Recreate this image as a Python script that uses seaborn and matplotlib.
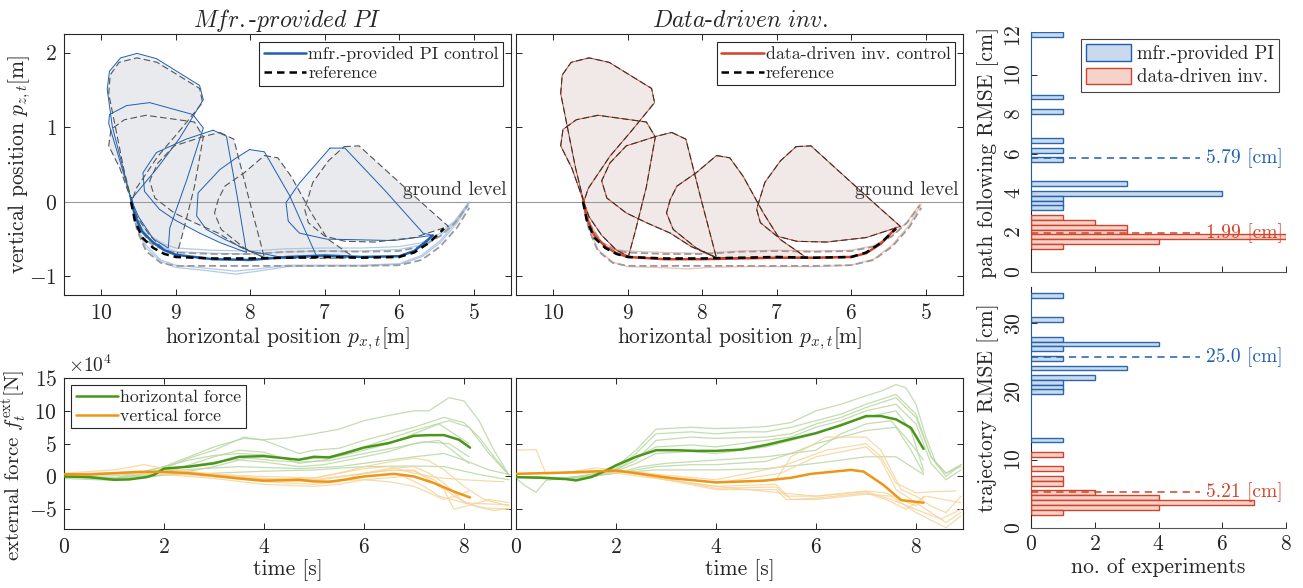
import matplotlib
matplotlib.use("Agg")
import matplotlib.pyplot as plt
import seaborn as sns
from matplotlib.lines import Line2D
from matplotlib.patches import Patch

# ── trajectory data [m] (x horizontal, y vertical) ──────────────────────────
# reference digging loops (dashed), data-driven control follows them closely
ref_loop1_x = [9.59, 9.70, 9.80, 9.90, 9.88, 9.76, 9.52, 9.25, 8.68, 8.64, 8.95, 9.24, 9.53, 9.59]
ref_loop1_y = [0.00, 0.45, 0.95, 1.45, 1.70, 1.87, 1.93, 1.87, 1.52, 1.33, 0.95, 0.61, 0.18, 0.00]
ref_loop2_x = [9.59, 9.75, 9.90, 9.87, 9.69, 9.40, 8.75, 8.63, 8.75, 8.90, 8.99, 9.15, 9.35, 9.52, 9.59]
ref_loop2_y = [0.00, 0.45, 0.75, 0.97, 1.10, 1.16, 1.07, 0.87, 0.20, -0.40, -0.73, -0.65, -0.45, -0.20, 0.00]
ref_loop3_x = [8.41, 8.22, 8.02, 7.81, 8.15, 8.43, 8.75, 9.02, 9.28, 9.35, 9.24, 9.02, 8.61, 8.41]
ref_loop3_y = [0.93, 0.84, 0.05, -0.75, -0.60, -0.42, -0.28, -0.15, 0.05, 0.28, 0.52, 0.75, 0.88, 0.93]
ref_loop4_x = [7.81, 7.63, 7.45, 7.18, 6.96, 6.60, 7.20, 7.81, 8.08, 8.39, 8.48, 8.43, 8.34, 8.08, 7.81]
ref_loop4_y = [0.62, 0.59, 0.34, -0.15, -0.50, -0.75, -0.76, -0.75, -0.62, -0.37, -0.15, 0.03, 0.21, 0.39, 0.62]
ref_loop5_x = [6.74, 6.54, 6.00, 5.60, 5.34, 5.80, 6.33, 6.73, 7.00, 7.22, 7.27, 7.16, 6.95, 6.74]
ref_loop5_y = [0.74, 0.75, 0.26, -0.10, -0.33, -0.48, -0.54, -0.53, -0.46, -0.28, -0.10, 0.26, 0.55, 0.74]

# manufacturer PI control loops (drift away from the reference)
pi_loop1_x = [9.60, 9.72, 9.85, 9.92, 9.89, 9.74, 9.52, 9.26, 8.68, 8.63, 8.95, 9.25, 9.50, 9.60]
pi_loop1_y = [0.03, 0.50, 1.00, 1.51, 1.75, 1.93, 1.99, 1.92, 1.56, 1.37, 0.85, 0.45, 0.15, 0.03]
pi_loop2_x = [9.60, 9.75, 9.90, 9.89, 9.66, 9.35, 8.77, 8.63, 8.85, 9.08, 9.10, 9.30, 9.50, 9.60]
pi_loop2_y = [0.03, 0.55, 1.05, 1.17, 1.29, 1.33, 1.17, 0.99, 0.30, -0.35, -0.62, -0.50, -0.20, 0.03]
pi_loop3_x = [8.50, 8.32, 8.18, 8.05, 8.40, 8.68, 9.00, 9.22, 9.42, 9.44, 9.26, 8.86, 8.50]
pi_loop3_y = [0.96, 0.88, 0.10, -0.68, -0.55, -0.42, -0.25, -0.10, 0.14, 0.39, 0.66, 0.84, 0.96]
pi_loop4_x = [8.01, 7.81, 7.47, 7.11, 7.50, 8.01, 8.35, 8.59, 8.72, 8.70, 8.41, 8.20, 8.01]
pi_loop4_y = [0.70, 0.67, 0.08, -0.73, -0.76, -0.66, -0.50, -0.37, -0.19, 0.12, 0.43, 0.58, 0.70]
pi_loop5_x = [6.93, 6.73, 6.20, 5.68, 5.55, 6.08, 6.98, 7.34, 7.49, 7.52, 7.34, 6.93]
pi_loop5_y = [0.72, 0.72, 0.16, -0.42, -0.45, -0.52, -0.50, -0.42, -0.26, -0.01, 0.25, 0.72]

# bottom (scraping) passes
bot_x = [9.60, 9.55, 9.45, 9.30, 9.15, 9.00, 8.50, 8.00, 7.50, 7.00, 6.50, 6.00, 5.80, 5.60, 5.40]
ref_main_y = [0.00, -0.25, -0.48, -0.62, -0.70, -0.74, -0.76, -0.76, -0.75, -0.74, -0.75, -0.74, -0.68, -0.55, -0.36]
pi_main_x = [9.60, 9.55, 9.45, 9.30, 9.15, 9.00, 8.50, 8.00, 7.50, 7.00, 6.50, 6.00, 5.80, 5.65, 5.55]
pi_main_y = [0.05, -0.18, -0.40, -0.55, -0.65, -0.71, -0.77, -0.78, -0.74, -0.72, -0.74, -0.73, -0.66, -0.54, -0.45]
dd_main_y = [0.02, -0.22, -0.45, -0.60, -0.69, -0.74, -0.77, -0.77, -0.76, -0.75, -0.75, -0.74, -0.69, -0.56, -0.35]

up_x = [9.60, 9.50, 9.35, 9.15, 9.00, 8.50, 8.00, 7.50, 7.00, 6.50, 6.00, 5.70, 5.45, 5.25, 5.08]
pi_up1_y = [0.03, -0.25, -0.45, -0.57, -0.62, -0.65, -0.66, -0.63, -0.62, -0.62, -0.60, -0.55, -0.42, -0.25, -0.02]
pi_up2_y = [0.03, -0.28, -0.50, -0.62, -0.67, -0.69, -0.70, -0.67, -0.66, -0.66, -0.64, -0.58, -0.45, -0.27, -0.04]
ref_up_y = [0.00, -0.32, -0.55, -0.65, -0.68, -0.70, -0.70, -0.67, -0.66, -0.67, -0.66, -0.60, -0.46, -0.28, -0.05]
dd_up_y = [0.01, -0.30, -0.54, -0.64, -0.66, -0.68, -0.69, -0.66, -0.65, -0.66, -0.65, -0.59, -0.45, -0.27, -0.03]

low_x = [9.60, 9.52, 9.40, 9.20, 9.00, 8.60, 8.20, 7.90, 7.50, 7.00, 6.50, 6.00, 5.70, 5.45, 5.22, 5.06]
pi_low1_y = [0.03, -0.35, -0.62, -0.80, -0.88, -0.92, -0.97, -0.93, -0.87, -0.86, -0.86, -0.84, -0.74, -0.55, -0.28, -0.02]
pi_low2_y = [0.03, -0.32, -0.58, -0.78, -0.85, -0.89, -0.93, -0.90, -0.85, -0.85, -0.85, -0.83, -0.72, -0.52, -0.25, 0.00]
ref_low_y = [0.00, -0.38, -0.66, -0.82, -0.86, -0.86, -0.86, -0.86, -0.86, -0.86, -0.86, -0.85, -0.78, -0.60, -0.34, -0.08]
dd_low_y = [0.01, -0.36, -0.64, -0.81, -0.87, -0.88, -0.90, -0.88, -0.87, -0.87, -0.87, -0.85, -0.77, -0.58, -0.31, -0.03]

# ── external forces [x1e4 N] ────────────────────────────────────────────────
c_hor_t = [0, 0.5, 1.0, 1.3, 1.65, 1.8, 2.0, 2.5, 3.0, 3.5, 4.0, 4.5, 4.7, 5.0, 5.3, 5.6, 6.0, 6.5, 7.0, 7.3, 7.6, 7.9, 8.12]
c_hor_v = [0, -0.1, -0.5, -0.45, -0.1, 0.25, 1.2, 1.5, 2.0, 3.0, 3.1, 2.7, 2.55, 3.0, 2.9, 3.5, 4.4, 5.1, 6.2, 6.3, 6.3, 5.6, 4.4]
c_ver_t = [0, 0.5, 1.0, 1.5, 2.0, 2.5, 3.0, 3.5, 4.0, 4.7, 5.0, 5.3, 5.6, 6.0, 6.6, 7.0, 7.4, 7.8, 8.12]
c_ver_v = [0.35, 0.3, 0.5, 0.7, 0.7, 0.5, 0.1, -0.3, -0.65, -0.5, -0.75, -0.8, -0.5, 0.0, 0.4, 0.0, -1.0, -2.3, -3.2]
d_hor_t = [0, 0.5, 1.0, 1.2, 1.5, 1.8, 2.0, 2.4, 2.8, 3.2, 3.6, 4.0, 4.5, 5.0, 5.5, 6.0, 6.5, 7.0, 7.3, 7.6, 7.9, 8.15]
d_hor_v = [-0.1, -0.2, -0.4, -0.6, -0.1, 0.9, 1.7, 3.0, 4.0, 4.0, 3.9, 3.9, 4.1, 4.8, 5.7, 6.6, 7.8, 9.2, 9.2, 8.7, 7.4, 4.2]
d_ver_t = [0, 1.0, 2.0, 2.5, 3.1, 4.0, 4.95, 5.5, 5.9, 6.7, 6.95, 7.35, 7.7, 8.15]
d_ver_v = [0.4, 0.6, 0.9, 0.4, -0.25, -0.9, -0.65, -0.2, 0.4, 1.0, 0.75, -1.3, -3.6, -4.0]

c_hor_runs = [
    ([0, 1.0, 1.5, 2.0, 2.5, 3.0, 3.6, 4.0, 4.5, 5.0, 5.5, 6.0, 6.5, 7.0, 7.3, 7.7, 8.0, 8.3, 8.6, 8.9],
     [0, 0.1, 0.5, 1.5, 3.0, 4.5, 5.8, 5.6, 5.9, 6.5, 7.2, 8.5, 9.3, 10.0, 10.0, 12.0, 11.5, 8.5, 4.0, 0.2]),
    ([0, 1.0, 1.5, 2.0, 2.5, 3.0, 3.6, 4.0, 4.7, 5.0, 5.5, 6.0, 6.5, 7.0, 7.6, 8.0, 8.3, 8.6, 8.9],
     [0, -0.2, 0.2, 1.2, 2.8, 4.0, 6.0, 5.5, 3.5, 4.0, 4.3, 5.5, 6.5, 7.5, 9.0, 8.2, 6.0, 3.0, 0.3]),
    ([0, 1.0, 1.8, 2.2, 3.0, 3.5, 4.0, 4.7, 5.2, 6.0, 6.5, 7.0, 7.5, 8.1],
     [0, -0.4, 0.3, 1.0, 3.0, 4.0, 3.7, 2.0, 2.5, 4.0, 5.0, 6.5, 8.0, 5.0]),
    ([0, 1.0, 1.8, 2.5, 3.0, 3.5, 4.0, 4.7, 5.2, 6.0, 6.5, 7.0, 7.5, 8.1],
     [-0.3, -0.6, 0.0, 0.8, 1.5, 2.5, 2.2, 1.5, 1.8, 3.0, 3.8, 5.0, 5.5, 2.0]),
    ([0, 1.0, 2.0, 3.0, 3.5, 4.7, 5.5, 6.0, 7.0, 7.6, 8.0, 8.5, 8.9],
     [0, -0.3, 0.8, 1.3, 1.5, 1.2, 1.5, 2.0, 3.0, 3.5, 2.5, 1.0, 0.3]),
    ([0, 1.0, 2.0, 3.0, 4.0, 5.0, 6.0, 7.0, 7.6, 8.3, 8.9],
     [0, -0.2, 0.2, 0.5, 0.8, 1.0, 1.5, 1.6, 1.5, 0.3, -0.5]),
    ([0, 1.0, 2.0, 2.5, 3.0, 3.5, 4.0, 4.7, 5.3, 6.0, 6.6, 7.0, 7.7, 8.1, 8.5, 8.9],
     [0, -0.3, 1.5, 2.5, 3.2, 3.5, 3.3, 2.5, 3.0, 4.5, 6.0, 7.0, 8.5, 7.5, 3.5, 0.2]),
    ([0, 1.0, 2.0, 3.0, 3.7, 4.2, 4.7, 5.3, 6.0, 6.7, 7.2, 7.7, 8.1],
     [0, -0.4, 1.0, 2.2, 2.8, 2.4, 2.2, 2.4, 3.5, 4.5, 5.3, 5.0, 3.0]),
]
c_ver_runs = [
    ([0, 1.0, 1.6, 2.0, 2.5, 3.0, 4.0, 5.0, 5.5, 6.0, 6.5, 7.0, 7.3, 7.6, 8.0, 8.4, 8.9],
     [0.5, 1.0, 1.8, 1.2, 0.8, 0.3, -0.5, -0.3, 0.5, 1.5, 2.2, 2.8, 2.4, 1.0, -1.5, -3.5, -4.5]),
    ([0, 1.0, 2.0, 3.0, 4.0, 5.0, 5.5, 6.0, 6.5, 7.0, 7.3, 7.6, 8.0, 8.4, 8.9],
     [0.3, 0.5, 0.5, 0.0, -0.8, -1.2, -0.8, 0.5, 1.2, 1.5, 0.5, -1.0, -4.0, -4.8, -5.0]),
    ([0, 1.0, 2.0, 3.0, 4.0, 5.0, 5.5, 6.0, 6.8, 7.2, 7.5, 8.0, 8.5, 8.9],
     [0.2, 0.4, 0.3, -0.3, -1.2, -1.5, -1.2, -0.5, 0.0, -1.5, -3.0, -4.0, -4.2, -4.3]),
    ([0, 1.0, 2.0, 3.0, 4.0, 5.0, 6.0, 6.5, 7.0, 7.3, 7.6, 7.8, 8.2, 8.5, 8.9],
     [0.4, 0.6, 0.8, 0.4, -0.3, -0.5, 0.5, 0.9, 1.0, -0.5, -2.0, -5.0, -4.2, -3.5, -4.0]),
    ([0, 1.0, 2.0, 3.0, 4.0, 5.0, 6.0, 6.5, 7.0, 7.5, 8.0, 8.5, 8.8],
     [0.2, 0.4, 0.5, 0.3, 0.0, -0.2, 1.2, 1.5, 0.5, -0.2, -0.5, -0.7, -0.8]),
    ([0, 1.0, 2.0, 3.0, 4.0, 5.0, 6.0, 6.5, 7.0, 7.3, 7.6, 7.9, 8.1],
     [0.3, 0.5, 0.6, 0.0, -0.6, -0.8, -0.5, -0.8, -1.5, -2.5, -3.5, -2.8, -2.2]),
    ([0, 1.0, 2.0, 3.0, 4.0, 5.0, 6.0, 6.5, 7.0, 7.4, 7.8, 8.2, 8.6, 8.9],
     [0.3, 0.5, 0.7, 0.2, -0.4, -0.6, 0.4, 1.0, 0.8, -0.5, -3.0, -4.5, -5.2, -4.8]),
]
d_hor_runs = [
    ([0, 1.0, 1.6, 2.0, 2.4, 2.8, 3.5, 4.0, 4.5, 5.0, 5.5, 6.0, 6.5, 7.0, 7.3, 7.6, 7.8, 8.0, 8.2, 8.4, 8.6, 8.9],
     [0, -0.2, 0.2, 1.5, 4.0, 7.2, 7.5, 7.3, 7.4, 7.6, 8.2, 10.0, 11.0, 12.3, 13.0, 14.0, 13.5, 11.0, 6.0, 2.0, 0.5, 1.5]),
    ([0, 1.0, 1.6, 2.0, 2.4, 2.8, 3.5, 4.0, 4.5, 5.0, 5.5, 6.0, 6.5, 7.0, 7.6, 8.0, 8.3, 8.6, 8.9],
     [0, -0.3, 0.1, 1.2, 3.5, 6.5, 6.8, 6.5, 6.8, 6.8, 7.5, 8.5, 9.5, 11.0, 12.5, 9.5, 3.0, 0.0, 1.8]),
    ([0, 1.0, 1.7, 2.0, 2.4, 2.8, 3.5, 4.0, 5.0, 5.5, 6.0, 6.5, 7.0, 7.6, 7.9, 8.15],
     [0, -0.3, 0.2, 0.8, 2.0, 3.5, 3.8, 3.5, 4.5, 5.5, 6.5, 8.0, 9.0, 10.0, 7.0, 1.0]),
    ([0, 1.0, 1.8, 2.4, 2.8, 3.5, 4.0, 5.0, 5.5, 6.0, 6.5, 7.0, 7.6, 7.9, 8.15],
     [0, -0.3, 0.3, 1.0, 1.5, 1.8, 1.8, 2.3, 3.5, 5.0, 6.0, 7.0, 7.5, 4.0, 0.5]),
    ([0, 0.2, 0.4, 0.6, 1.0, 2.0, 2.8, 4.0, 5.0, 6.0, 7.0, 7.6, 8.15],
     [-0.3, -1.5, -2.4, -0.6, -0.2, 0.5, 1.0, 1.0, 1.2, 2.0, 3.0, 3.0, 0.3]),
    ([0, 1.0, 1.6, 2.0, 2.4, 2.8, 3.5, 4.0, 5.0, 5.5, 6.0, 6.5, 7.0, 7.6, 8.0, 8.3, 8.6, 8.9],
     [0, -0.4, 0.0, 1.0, 3.0, 4.5, 4.8, 4.5, 5.5, 6.0, 7.5, 8.5, 10.0, 11.0, 8.0, 2.0, -0.5, 1.0]),
    ([0, 1.0, 2.0, 2.5, 3.0, 4.0, 5.0, 6.0, 6.5, 7.0, 7.5, 7.9, 8.15],
     [0, -0.2, 0.5, 1.5, 2.0, 2.5, 3.0, 4.0, 6.5, 8.0, 8.5, 5.0, 2.5]),
    ([0, 1.0, 2.0, 2.4, 2.8, 3.5, 4.0, 5.0, 5.5, 6.0, 6.5, 7.0, 7.6, 8.0, 8.3, 8.6, 8.9],
     [0, -0.3, 1.0, 2.5, 5.5, 6.0, 5.8, 6.0, 6.5, 8.0, 9.0, 10.5, 12.0, 9.0, 3.0, 0.5, 1.8]),
]
d_ver_runs = [
    ([0, 0.4, 0.6, 1.0, 2.0, 3.0, 4.0, 5.2, 5.5, 6.2, 7.0, 7.3, 7.7, 8.0, 8.3, 8.6, 8.9],
     [4.0, 4.1, 0.4, 0.5, 0.8, -0.2, -0.9, -0.5, 3.0, 6.0, 6.0, 4.0, -2.0, -3.0, -4.5, -5.5, -3.0]),
    ([0, 1.0, 1.6, 2.0, 3.0, 4.0, 5.2, 5.5, 6.0, 7.0, 7.4, 7.8, 8.2, 8.9],
     [0.4, 0.6, 1.3, 1.0, -0.5, -1.5, -1.2, -3.5, -3.3, -2.5, -3.5, -5.0, -3.0, -4.0]),
    ([0, 1.0, 2.0, 3.0, 4.0, 5.2, 5.4, 6.0, 7.0, 7.5, 8.0, 8.6, 8.9],
     [0.4, 0.6, 1.0, -0.5, -2.0, -2.0, -3.5, -3.5, -2.7, -3.0, -5.5, -7.8, -6.0]),
    ([0, 1.0, 2.0, 3.0, 4.0, 5.3, 6.0, 7.0, 7.3, 7.6, 8.0, 8.6, 8.9],
     [0.4, 0.6, 0.8, 0.0, -1.0, 0.5, 3.0, 4.5, 2.5, -2.0, -4.0, -7.0, -5.5]),
    ([0, 1.0, 2.0, 3.0, 4.0, 5.3, 6.0, 7.0, 7.4, 8.0, 8.15],
     [0.4, 0.5, 0.5, -0.5, -1.5, -2.5, -3.0, -2.2, -2.5, -4.5, -3.0]),
    ([0, 1.0, 2.0, 3.0, 4.0, 5.3, 6.2, 7.0, 7.3, 7.6, 8.0, 8.4, 8.8],
     [0.4, 0.6, 1.0, 0.2, -0.5, 1.5, 4.0, 5.0, 3.0, -1.0, -2.5, -2.3, -2.2]),
    ([0, 1.0, 2.0, 3.0, 4.0, 5.2, 5.4, 6.0, 7.0, 7.5, 8.0, 8.5, 8.9],
     [0.4, 0.6, 0.9, -0.3, -1.8, -1.6, -3.0, -3.0, -2.3, -3.5, -5.0, -6.5, -5.0]),
]

# ── RMSE histograms: bin centres [cm] and counts ────────────────────────────
path_pi_bins = [12.03, 8.87, 8.12, 6.67, 6.18, 5.71, 4.47, 3.98, 3.74, 3.49, 3.25]
path_pi_counts = [1, 1, 1, 1, 1, 1, 3, 6, 1, 1, 1]
path_dd_bins = [2.75, 2.51, 2.27, 2.02, 1.78, 1.53, 1.29]
path_dd_counts = [1, 2, 3, 3, 8, 4, 1]
traj_pi_bins = [34.05, 30.50, 27.67, 26.96, 26.25, 24.86, 23.44, 22.05, 21.35, 20.64, 19.96, 12.88]
traj_pi_counts = [1, 1, 1, 4, 1, 1, 3, 2, 1, 1, 1, 1]
traj_dd_bins = [10.76, 8.66, 7.24, 6.53, 5.14, 4.44, 3.73, 3.02, 2.31]
traj_dd_counts = [1, 1, 1, 1, 2, 4, 7, 4, 1]
path_means = [5.79, 1.99]
path_mean_labels = ["5.79 [cm]", "1.99 [cm]"]
traj_means = [25.0, 5.21]
traj_mean_labels = ["25.0 [cm]", "5.21 [cm]"]

BLUE, BLUE_L, BLUE_F = "#1f5fb0", "#9fbde2", "#c9d9ee"
RED, RED_L, RED_F = "#d0442b", "#efb0a2", "#f5d3ca"
GREEN, GREEN_L = "#4a961c", "#b9d7a2"
ORANGE, ORANGE_L = "#ef9516", "#f6d49c"
INK = "#262626"

sns.set_theme(style="ticks")
plt.rcParams.update({
    "font.family": "cmr10",
    "mathtext.fontset": "cm",
    "axes.formatter.use_mathtext": True,
    "axes.unicode_minus": False,
    "font.size": 15,
    "axes.labelsize": 15.5,
    "xtick.labelsize": 15.5,
    "ytick.labelsize": 15.5,
    "axes.edgecolor": INK,
    "axes.labelcolor": INK,
    "xtick.color": INK,
    "ytick.color": INK,
    "axes.linewidth": 0.8,
    "xtick.direction": "in",
    "ytick.direction": "in",
    "xtick.major.size": 4,
    "ytick.major.size": 4,
    "xtick.major.width": 0.7,
    "ytick.major.width": 0.7,
    "legend.fontsize": 12.8,
})

W, H = 1303, 588
fig = plt.figure(figsize=(W / 100, H / 100), dpi=100)


def box(x0, y0, x1, y1):
    return [x0 / W, 1 - y1 / H, (x1 - x0) / W, (y1 - y0) / H]


ax_a = fig.add_axes(box(64, 34, 511, 295))
ax_b = fig.add_axes(box(516, 34, 963, 295))
ax_c = fig.add_axes(box(64, 378, 511, 529))
ax_d = fig.add_axes(box(516, 378, 963, 529))
ax_e = fig.add_axes(box(1031, 32, 1286, 272))
ax_f = fig.add_axes(box(1031, 287, 1286, 528))

ref_loops = [(ref_loop1_x, ref_loop1_y), (ref_loop2_x, ref_loop2_y), (ref_loop3_x, ref_loop3_y),
             (ref_loop4_x, ref_loop4_y), (ref_loop5_x, ref_loop5_y)]
pi_loops = [(pi_loop1_x, pi_loop1_y), (pi_loop2_x, pi_loop2_y), (pi_loop3_x, pi_loop3_y),
            (pi_loop4_x, pi_loop4_y), (pi_loop5_x, pi_loop5_y)]


def boxed(ax):
    ax.tick_params(top=True, right=True, pad=6)
    ax.tick_params(axis="y", pad=5)
    for s in ax.spines.values():
        s.set_visible(True)
        s.set_color(INK)


def legend_box(ax, handles, labels, loc, pad=0.45):
    leg = ax.legend(handles, labels, loc=loc, frameon=True, fancybox=False, edgecolor=INK,
                    framealpha=1, borderpad=0.25, labelspacing=0.2, handlelength=2.4,
                    handletextpad=0.1, borderaxespad=pad)
    leg.get_frame().set_linewidth(0.8)
    return leg


def traj_panel(ax, ctrl_loops, ctrl_color, light, fill_light, fill_dark,
               ctrl_main, ctrl_faint, ref_dash_color, label):
    # shaded loops
    for x, y in ctrl_loops:
        ax.fill(x, y, color=fill_light, lw=0, zorder=1)
    for x, y in ref_loops:
        ax.fill(x, y, color=fill_dark, lw=0, zorder=1.1)
    ax.axhline(0, color="#9a9a9a", lw=0.8, zorder=1.5)
    # faint bottom passes
    for x, y in ctrl_faint:
        ax.plot(x, y, color=light, lw=0.9, alpha=0.8, zorder=2)
    ax.plot(up_x, ref_up_y, color="#9a9a9a", lw=1.3, ls=(0, (4, 2)), zorder=2.2)
    ax.plot(low_x, ref_low_y, color="#9a9a9a", lw=1.3, ls=(0, (4, 2)), zorder=2.2)
    # loops
    for x, y in ctrl_loops:
        ax.plot(x, y, color=ctrl_color, lw=0.7, zorder=3)
    for x, y in ref_loops:
        ax.plot(x, y, color=ref_dash_color, lw=0.8, ls=(0, (6, 3)), zorder=3.1)
    # main pass
    sns.lineplot(x=ctrl_main[0], y=ctrl_main[1], ax=ax, color=ctrl_color, lw=1.8,
                 sort=False, estimator=None, zorder=4)
    sns.lineplot(x=bot_x, y=ref_main_y, ax=ax, color="black", lw=1.8, ls=(0, (3, 2)),
                 sort=False, estimator=None, zorder=4.5)
    ax.text(4.56, 0.04, "ground level", ha="right", va="bottom", fontsize=14, color="#333333")
    ax.set_xlim(10.5, 4.5)
    ax.set_ylim(-1.25, 2.25)
    ax.set_xticks([10, 9, 8, 7, 6, 5])
    ax.set_yticks([-1, 0, 1, 2])
    ax.set_xlabel(r"horizontal position $p_{x,t}$[m]", labelpad=2)
    boxed(ax)
    legend_box(ax, [Line2D([], [], color=ctrl_color, lw=1.8),
                    Line2D([], [], color="black", lw=1.8, ls=(0, (3, 2)))],
               [label, "reference"], "upper right")


traj_panel(ax_a, pi_loops, BLUE, BLUE_L, "#eef2f7", "#e8eaee",
           (pi_main_x, pi_main_y),
           [(up_x, pi_up1_y), (up_x, pi_up2_y), (low_x, pi_low1_y), (low_x, pi_low2_y)],
           "#555555", "mfr.-provided PI control")
traj_panel(ax_b, ref_loops, RED, RED_L, "#f1e9e7", "#f1e9e7",
           (bot_x, dd_main_y),
           [(up_x, dd_up_y), (low_x, dd_low_y)],
           "#333333", "data-driven inv. control")
ax_a.set_ylabel(r"vertical position $p_{z,t}$[m]")
ax_a.yaxis.set_label_coords(-0.07, 0.5)
ax_b.set_yticklabels([])
ax_a.set_title(r"$\mathit{Mfr.}$-$\mathit{provided\ PI}$", fontsize=17, pad=5)
ax_b.set_title(r"$\mathit{Data}$-$\mathit{driven\ inv.}$", fontsize=17, pad=5)


def force_panel(ax, hor_runs, ver_runs, hor, ver):
    for t, v in hor_runs:
        ax.plot(t, v, color=GREEN_L, lw=0.9, alpha=0.85, zorder=2)
    for t, v in ver_runs:
        ax.plot(t, v, color=ORANGE_L, lw=0.9, alpha=0.85, zorder=2)
    sns.lineplot(x=hor[0], y=hor[1], ax=ax, color=GREEN, lw=1.8, sort=False,
                 estimator=None, zorder=4)
    sns.lineplot(x=ver[0], y=ver[1], ax=ax, color=ORANGE, lw=1.8, sort=False,
                 estimator=None, zorder=4)
    ax.set_xlim(0, 8.94)
    ax.set_ylim(-8, 15)
    ax.set_xticks([0, 2, 4, 6, 8])
    ax.set_yticks([-5, 0, 5, 10, 15])
    ax.set_xlabel("time [s]", labelpad=2)
    boxed(ax)


force_panel(ax_c, c_hor_runs, c_ver_runs, (c_hor_t, c_hor_v), (c_ver_t, c_ver_v))
force_panel(ax_d, d_hor_runs, d_ver_runs, (d_hor_t, d_hor_v), (d_ver_t, d_ver_v))
ax_d.set_yticklabels([])
ax_c.set_ylabel(r"external force $f_t^{\mathrm{ext}}$[N]", fontsize=15)
ax_c.yaxis.set_label_coords(-0.079, 0.42)
ax_c.text(0.01, 1.01, r"$\times10^4$", transform=ax_c.transAxes, ha="left", va="bottom",
          fontsize=14, color=INK)
legend_box(ax_c, [Line2D([], [], color=GREEN, lw=1.8), Line2D([], [], color=ORANGE, lw=1.8)],
           ["horizontal force", "vertical force"], "upper left", pad=0.4)


def hist_panel(ax, pi_bins, pi_counts, dd_bins, dd_counts, width, means, labels,
               ylim, yticks):
    ax.barh(dd_bins, dd_counts, height=width, color=RED_F, edgecolor=RED, lw=1.0, zorder=2)
    ax.barh(pi_bins, pi_counts, height=width, color=BLUE_F, edgecolor=BLUE, lw=1.0,
            alpha=0.95, zorder=3)
    ax.vlines(0, min(dd_bins) - width / 2, max(dd_bins) + width / 2, color=RED, lw=1.4, zorder=4)
    ax.vlines(0, min(pi_bins) - width / 2, max(pi_bins) + width / 2, color=BLUE, lw=1.4, zorder=4)
    for m, lab, c in zip(means, labels, [BLUE, RED]):
        ax.plot([0, 5.3], [m, m], color=c, lw=1.3, ls=(0, (4, 3)), zorder=5, alpha=0.85)
        ax.text(5.5, m, lab, color=c, ha="left", va="center", fontsize=14, zorder=6)
    ax.set_xlim(0, 8)
    ax.set_ylim(*ylim)
    ax.set_xticks([0, 2, 4, 6, 8])
    ax.set_yticks(yticks)
    for lab in ax.get_yticklabels():
        lab.set_rotation(90)
        lab.set_va("center")
    sns.despine(ax=ax)
    ax.spines["bottom"].set_color("#555555")
    ax.tick_params(pad=5)


hist_panel(ax_e, path_pi_bins, path_pi_counts, path_dd_bins, path_dd_counts, 0.245,
           path_means, path_mean_labels, (0, 12.17), [0, 2, 4, 6, 8, 10, 12])
hist_panel(ax_f, traj_pi_bins, traj_pi_counts, traj_dd_bins, traj_dd_counts, 0.707,
           traj_means, traj_mean_labels, (0, 35.3), [0, 10, 20, 30])
ax_e.set_xticklabels([])
ax_e.set_ylabel("path following RMSE [cm]", labelpad=4)
ax_f.set_ylabel("trajectory RMSE [cm]", labelpad=4)
ax_f.set_xlabel("no. of experiments", labelpad=2)
leg = ax_e.legend([Patch(facecolor=BLUE_F, edgecolor=BLUE), Patch(facecolor=RED_F, edgecolor=RED)],
                  ["mfr.-provided PI", "data-driven inv."], loc="upper right", frameon=True,
                  fancybox=False, edgecolor="#444444", framealpha=1, borderpad=0.3,
                  labelspacing=0.25, handlelength=2.4, handleheight=1.0, handletextpad=0.3,
                  borderaxespad=0.35, fontsize=13.5)
leg.get_frame().set_linewidth(0.8)

fig.savefig("out.png", dpi=100)
